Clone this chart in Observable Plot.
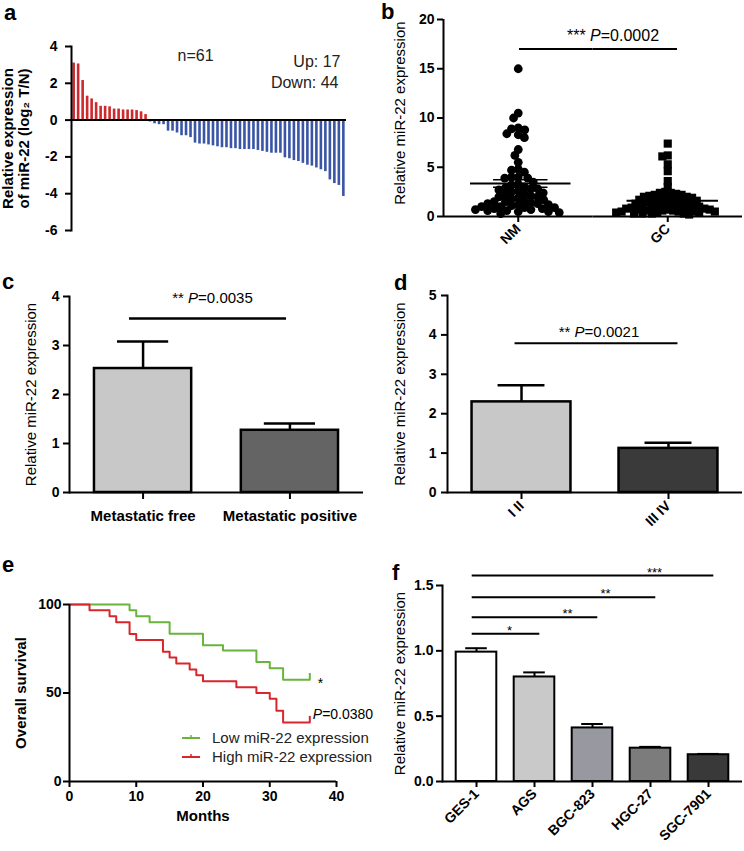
<!DOCTYPE html>
<html><head><meta charset="utf-8">
<script src="https://cdn.jsdelivr.net/npm/d3@7"></script>
<script src="https://cdn.jsdelivr.net/npm/@observablehq/plot@0.6"></script>
<style>
body{margin:0;background:#fff;}
#fig{position:relative;width:744px;height:851px;overflow:hidden;background:#fff;}
.panel{position:absolute;}
#overlay{position:absolute;left:0;top:0;pointer-events:none;}
</style></head><body><div id="fig"></div>
<script>
// ---------- DATA ----------
// a: log2 T/N per patient (sorted)
const aUp = [3.1, 3.05, 2.15, 1.3, 1.15, 0.95, 0.75, 0.75, 0.72, 0.6, 0.6, 0.55, 0.55, 0.55, 0.52, 0.45, 0.3];
const aDown = [-0.1, -0.2, -0.25, -0.25, -0.6, -0.6, -0.7, -0.85, -0.85, -0.95, -1.25, -1.3, -1.3, -1.35, -1.4,
  -1.45, -1.5, -1.5, -1.55, -1.55, -1.6, -1.6, -1.6, -1.6, -1.65, -1.7, -1.75, -1.8, -1.8, -1.8, -2.05, -2.1,
  -2.2, -2.25, -2.35, -2.45, -2.5, -2.6, -2.7, -2.8, -3.25, -3.45, -3.55, -4.15];
const aTicks = [4, 2, 0, -2, -4, -6];
// b: scatter NM vs GC
const bGroups = ["NM", "GC"];
const bNM = [15, 10.5, 10, 9, 8.9, 8.8, 8.4, 8.3, 8, 6.8, 6.2, 5.5, 4.8, 4.7, 4.5, 4, 4, 3.9, 3.9,
  3.5, 3.3, 3.2, 3.0, 2.9, 2.8, 2.8, 2.7, 2.6, 2.5, 2.4, 2.3, 2.2, 2.1, 2.0, 2.0, 1.9, 1.8, 1.7, 1.6, 1.5, 1.5,
  1.4, 1.3, 1.3, 1.2, 1.2, 1.1, 1.0, 1.0, 0.9, 0.9, 0.8, 0.8, 0.7, 0.7, 0.6, 0.6, 0.5, 0.5, 0.4, 0.3];
const bGC = [7.4, 6.2, 6.1, 5.3, 4.6, 3.6, 3.0, 2.5, 2.4, 2.4, 2.3, 2.2, 2.2, 2.1, 2.0, 2.0, 1.9, 1.9, 1.8, 1.8,
  1.7, 1.7, 1.6, 1.6, 1.5, 1.5, 1.4, 1.4, 1.3, 1.3, 1.2, 1.2, 1.1, 1.1, 1.0, 1.0, 1.0, 0.9, 0.9, 0.9, 0.8, 0.8,
  0.8, 0.7, 0.7, 0.7, 0.6, 0.6, 0.6, 0.5, 0.5, 0.5, 0.5, 0.4, 0.4, 0.4, 0.3, 0.3, 0.3, 0.3, 0.2];
const bMeans = [3.35, 1.6];
const bSem = [0.38, 0.2];
const bTicks = [0, 5, 10, 15, 20];
const bSigY = 17;
// c: metastasis
const cCats = ["Metastatic free", "Metastatic positive"];
const cMeans = [2.53, 1.27];
const cSem = [0.55, 0.14];
const cColors = ["#c8c8c8", "#646464"];
const cTicks = [0, 1, 2, 3, 4];
const cSigY = 3.55;
// d: stage
const dCats = ["I II", "III IV"];
const dMeans = [2.30, 1.12];
const dSem = [0.42, 0.14];
const dColors = ["#c8c8c8", "#3a3a3a"];
const dTicks = [0, 1, 2, 3, 4, 5];
const dSigY = 3.79;
// e: survival
const eLowMonths = [0, 9, 10, 12, 15, 20, 23, 28, 30, 32, 36];
const eLowSurv = [100, 96.7, 93.3, 90, 83.5, 77, 74, 67.5, 64, 57.5, 57.5];
const eHighMonths = [0, 3, 6, 7, 9, 10, 14, 15, 16, 18, 19, 20, 25, 28, 30, 31, 32, 36];
const eHighSurv = [100, 96.7, 93.3, 90, 83.3, 80, 73.3, 70, 66.7, 63.3, 60, 56.7, 53.3, 50, 46.7, 40, 33.3, 33.3];
const eSeries = ["Low miR-22 expression", "High miR-22 expression"];
const eColors = ["#6ab43e", "#d9262a"];
const eXTicks = [0, 10, 20, 30, 40];
const eYTicks = [0, 50, 100];
// f: cell lines
const fCats = ["GES-1", "AGS", "BGC-823", "HGC-27", "SGC-7901"];
const fMeans = [0.99, 0.80, 0.41, 0.255, 0.205];
const fSem = [0.03, 0.035, 0.03, 0.01, 0.006];
const fColors = ["#ffffff", "#c9c9c9", "#9898a0", "#7c7c7c", "#393939"];
const fTicks = [0, 0.5, 1.0, 1.5];
const fSigTo = ["AGS", "BGC-823", "HGC-27", "SGC-7901"];
const fSigY = [1.13, 1.257, 1.41, 1.576];
const fSigLabel = ["*", "**", "**", "***"];

// ---------- STYLE ----------
const FONT = "'Liberation Sans', Arial, Helvetica, sans-serif";
const base = {fontFamily: FONT, fontSize: "14px", overflow: "visible", background: "none", color: "#000"};
const AX = {tickSize: 6, strokeWidth: 2, fontWeight: "bold", fontSize: 14, label: null, fill: "#000"};
const plain = d => String(d);
const fig = document.getElementById("fig");
function place(node, left, top) {
  const d = document.createElement("div");
  d.className = "panel"; d.style.left = left + "px"; d.style.top = top + "px";
  d.append(node); fig.append(d);
}
function ytitle(text, dx, opts = {}) {
  return Plot.text([text], {frameAnchor: "left", rotate: -90, dx, lineAnchor: "middle", textAnchor: "middle",
    fontSize: 15, fill: "#000", ...opts});
}

// ---------- PANEL A ----------
const aData = [...aUp.map(v => ({v, dir: "up"})), ...aDown.map(v => ({v, dir: "down"}))].map((d, i) => ({...d, i}));
place(Plot.plot({
  width: 372, height: 240, marginLeft: 71, marginRight: 26, marginTop: 46, marginBottom: 10, style: base,
  x: {type: "band", domain: aData.map(d => d.i), paddingInner: 0.42, paddingOuter: 0.3, round: false, axis: null},
  y: {domain: [-6, 4], axis: null},
  marks: [
    Plot.barY(aData, {x: "i", y: "v", fill: d => d.dir === "up" ? "#cc2a2e" : "#3a55a5"}),
    Plot.ruleY([0], {stroke: "#000", strokeWidth: 2}),
    Plot.frame({anchor: "left", strokeWidth: 2}),
    Plot.axisY({...AX, ticks: aTicks, tickFormat: plain, tickPadding: 8}),
    ytitle("Relative expression", -63, {fontWeight: "bold"}),
    ytitle("of miR-22 (log\u2082 T/N)", -47, {fontWeight: "bold"}),
    Plot.text(["n=61"], {frameAnchor: "top-left", dx: 124, dy: 9, lineAnchor: "middle", textAnchor: "middle", fontSize: 16, fill: "#222"}),
    Plot.text(["Up: 17"], {frameAnchor: "top-right", dx: -6, dy: 15, lineAnchor: "middle", textAnchor: "end", fontSize: 16, fill: "#222"}),
    Plot.text(["Down: 44"], {frameAnchor: "top-right", dx: -8, dy: 36, lineAnchor: "middle", textAnchor: "end", fontSize: 16, fill: "#222"})
  ]
}), 0, 0);

// ---------- PANEL B ----------
const bData = [...bNM.map(v => ({g: "NM", v})), ...bGC.map(v => ({g: "GC", v}))];
const bStats = bGroups.map((g, i) => ({g, mean: bMeans[i], sem: bSem[i]}));
place(Plot.plot({
  width: 372, height: 262, marginLeft: 71, marginRight: 2, marginTop: 19, marginBottom: 46, style: base,
  fx: {domain: bGroups, padding: 0, label: null, axis: null, round: false},
  x: {domain: [0, 1], axis: null},
  y: {domain: [0, 20], axis: null},
  marks: [
    Plot.ruleY([0], {strokeWidth: 2}),
    Plot.ruleX([{g: "NM"}], {x: () => 0, fx: "g", y1: () => 0, y2: () => 20, strokeWidth: 2}),
    Plot.axisY({...AX, ticks: bTicks, tickFormat: plain, tickPadding: 3}),
    Plot.axisFx({...AX, anchor: "bottom", tickRotate: -45, tickPadding: 4}),
    Plot.dot(bData.filter(d => d.g === "NM"), Plot.dodgeX({anchor: "middle", padding: -2, fx: "g", y: "v", r: 4.4, fill: "#000", symbol: "circle"})),
    Plot.dot(bData.filter(d => d.g === "GC"), Plot.dodgeX({anchor: "middle", padding: -3.7, fx: "g", y: "v", r: 4.6, fill: "#000", symbol: "square"})),
    Plot.tickY(bStats.filter(d => d.g === "NM"), {fx: "g", y: "mean", strokeWidth: 2, insetLeft: 27, insetRight: 22}),
    Plot.tickY(bStats.filter(d => d.g === "GC"), {fx: "g", y: "mean", strokeWidth: 2, insetLeft: 34, insetRight: 24}),
    Plot.tickY(bStats, {fx: "g", y: d => d.mean + d.sem, strokeWidth: 1.5, insetLeft: 50, insetRight: 45}),
    Plot.tickY(bStats, {fx: "g", y: d => d.mean - d.sem, strokeWidth: 1.5, insetLeft: 50, insetRight: 45}),
    Plot.ruleY([{g: "NM", y: bSigY}], {fx: "g", y: "y", strokeWidth: 2, insetLeft: 76}),
    Plot.ruleY([{g: "GC", y: bSigY}], {fx: "g", y: "y", strokeWidth: 2, insetRight: 65}),
    Plot.text([{g: "NM", t: "*** P=0.0002"}], {fx: "g", text: "t", frameAnchor: "top-right", dx: 20, dy: 16, lineAnchor: "middle", textAnchor: "middle", fontSize: 16, fill: "#000"}),
    Plot.text([{g: "NM", t: "Relative miR-22 expression"}], {fx: "g", text: "t", y: () => 10.5, frameAnchor: "left", rotate: -90, dx: -43, lineAnchor: "middle", textAnchor: "middle", fontSize: 15, fill: "#000"})
  ]
}), 372, 0);

// ---------- PANEL C ----------
const cData = cCats.map((cat, i) => ({cat, mean: cMeans[i], sem: cSem[i], color: cColors[i]}));
place(Plot.plot({
  width: 372, height: 262, marginLeft: 69, marginRight: 9, marginTop: 26, marginBottom: 40, style: base,
  x: {domain: cCats, paddingInner: 0.338, paddingOuter: 0.17, round: false, axis: null},
  y: {domain: [0, 4], axis: null},
  marks: [
    Plot.ruleX(cData, {x: "cat", y1: "mean", y2: d => d.mean + d.sem, strokeWidth: 2.5}),
    Plot.tickY(cData, {x: "cat", y: d => d.mean + d.sem, strokeWidth: 2.5, insetLeft: 23, insetRight: 23}),
    Plot.barY(cData, {x: "cat", y: "mean", fill: "color", stroke: "#000", strokeWidth: 2.5}),
    Plot.ruleY([0], {strokeWidth: 2}),
    Plot.frame({anchor: "left", strokeWidth: 2}),
    Plot.axisY({...AX, ticks: cTicks, tickFormat: plain, tickPadding: 4}),
    Plot.axisX({...AX, tickSize: 7, tickPadding: 11, fontSize: 15}),
    Plot.ruleY([cSigY], {x1: () => cCats[0], x2: () => cCats[1], strokeWidth: 2.5, insetLeft: 35, insetRight: 52}),
    Plot.text(["** P=0.0035"], {frameAnchor: "top", dx: -4, dy: 2, lineAnchor: "middle", fontSize: 15, fill: "#000"}),
    ytitle("Relative miR-22 expression", -38)
  ]
}), 0, 270);

// ---------- PANEL D ----------
const dData = dCats.map((cat, i) => ({cat, mean: dMeans[i], sem: dSem[i], color: dColors[i]}));
place(Plot.plot({
  width: 372, height: 265, marginLeft: 75, marginRight: 2, marginTop: 25, marginBottom: 43, style: base,
  x: {domain: dCats, paddingInner: 0.327, paddingOuter: 0.167, round: false, axis: null},
  y: {domain: [0, 5], axis: null},
  marks: [
    Plot.ruleX(dData, {x: "cat", y1: "mean", y2: d => d.mean + d.sem, strokeWidth: 2.5}),
    Plot.tickY(dData, {x: "cat", y: d => d.mean + d.sem, strokeWidth: 2.5, insetLeft: 26, insetRight: 26}),
    Plot.barY(dData, {x: "cat", y: "mean", fill: "color", stroke: "#000", strokeWidth: 2.5}),
    Plot.ruleY([0], {strokeWidth: 2}),
    Plot.frame({anchor: "left", strokeWidth: 2}),
    Plot.axisY({...AX, ticks: dTicks, tickFormat: plain, tickPadding: 5}),
    Plot.axisX({...AX, tickSize: 7, tickRotate: -45, tickPadding: 4}),
    Plot.ruleY([dSigY], {x1: () => dCats[0], x2: () => dCats[1], strokeWidth: 2, insetLeft: 43, insetRight: 40}),
    Plot.text(["** P=0.0021"], {frameAnchor: "top", dx: 4, dy: 37, lineAnchor: "middle", fontSize: 15, fill: "#000"}),
    ytitle("Relative miR-22 expression", -47)
  ]
}), 372, 270);

// ---------- PANEL E ----------
const eData = [
  ...eLowMonths.map((m, i) => ({m, s: eLowSurv[i], grp: eSeries[0]})),
  ...eHighMonths.map((m, i) => ({m, s: eHighSurv[i], grp: eSeries[1]}))
];
const eEnds = eSeries.map(g => eData.filter(d => d.grp === g).at(-1));
place(Plot.plot({
  width: 372, height: 240, marginLeft: 69, marginRight: 36, marginTop: 14, marginBottom: 49, style: base,
  x: {domain: [0, 40], axis: null},
  y: {domain: [0, 100], axis: null},
  color: {domain: eSeries, range: eColors},
  marks: [
    Plot.line(eData, {x: "m", y: "s", z: "grp", stroke: "grp", curve: "step-after", strokeWidth: 2}),
    Plot.ruleX(eEnds, {x: "m", y1: "s", y2: d => d.s + 3.5, stroke: "grp", strokeWidth: 2}),
    Plot.ruleX([0], {strokeWidth: 2}),
    Plot.ruleY([0], {strokeWidth: 2}),
    Plot.axisY({...AX, ticks: eYTicks, tickFormat: plain, tickPadding: 2}),
    Plot.axisX({...AX, ticks: eXTicks, tickFormat: plain, tickPadding: 4}),
    Plot.text([eEnds[0]], {x: "m", y: "s", text: () => "*", dx: 8, dy: 4, lineAnchor: "middle", textAnchor: "start", fontSize: 14, fill: "#000"}),
    Plot.text([eEnds[1]], {x: "m", y: "s", text: () => "P=0.0380", dx: 3, dy: -8, lineAnchor: "middle", textAnchor: "start", fontSize: 14, fill: "#000"}),
    Plot.text(["Months"], {frameAnchor: "bottom", dy: 35, lineAnchor: "middle", fontSize: 15, fontWeight: "bold", fill: "#000"}),
    ytitle("Overall survival", -48, {fontWeight: "bold"})
  ]
}), 0, 590);

// ---------- PANEL F ----------
const fData = fCats.map((cat, i) => ({cat, mean: fMeans[i], sem: fSem[i], color: fColors[i]}));
const fSig = fSigTo.map((to, i) => ({from: fCats[0], to, y: fSigY[i], label: fSigLabel[i]}));
const fStarDx = [-25, -25, -45, -54];
place(Plot.plot({
  width: 372, height: 300, marginLeft: 70, marginRight: 2, marginTop: 35, marginBottom: 69, style: base,
  x: {domain: fCats, paddingInner: 0.3, paddingOuter: 0.15, inset: 5, round: false, axis: null},
  y: {domain: [0, 1.5], axis: null},
  marks: [
    Plot.ruleX(fData, {x: "cat", y1: "mean", y2: d => d.mean + d.sem, strokeWidth: 2}),
    Plot.tickY(fData, {x: "cat", y: d => d.mean + d.sem, strokeWidth: 2, insetLeft: 9.5, insetRight: 9.5}),
    Plot.barY(fData, {x: "cat", y: "mean", fill: "color", stroke: "#000", strokeWidth: 2}),
    Plot.ruleY([0], {strokeWidth: 2}),
    Plot.frame({anchor: "left", strokeWidth: 2}),
    Plot.axisY({...AX, ticks: fTicks, tickFormat: d3.format(".1f"), tickPadding: 3}),
    Plot.axisX({...AX, tickRotate: -45, tickPadding: 4}),
    Plot.ruleY(fSig, {x1: "from", x2: "to", y: "y", strokeWidth: 2, insetLeft: 16, insetRight: 15}),
    ...fSig.map((s, i) => Plot.text([s], {x: "to", y: "y", text: "label", dx: fStarDx[i], dy: 1, lineAnchor: "bottom", fontSize: 13, fill: "#000"})),
    ytitle("Relative miR-22 expression", -42)
  ]
}), 372, 550);

// ---------- OVERLAY: panel letters + legend of e ----------
const ov = d3.select(fig).append("svg").attr("id", "overlay").attr("width", 744).attr("height", 851)
  .style("font-family", FONT);
const letters = [["a", 4, 20], ["b", 381, 19], ["c", 2, 289], ["d", 394, 290], ["e", 2, 572], ["f", 392, 580]];
ov.selectAll("text.letter").data(letters).join("text").attr("class", "letter")
  .attr("x", d => d[1]).attr("y", d => d[2]).text(d => d[0])
  .attr("font-size", 22).attr("font-weight", "bold").attr("fill", "#000");
const leg = ov.selectAll("g.leg").data(eSeries).join("g").attr("class", "leg")
  .attr("transform", (d, i) => `translate(182,${738 + i * 19})`);
leg.append("line").attr("x1", 0).attr("x2", 18).attr("stroke", (d, i) => eColors[i]).attr("stroke-width", 2);
leg.append("line").attr("x1", 9).attr("x2", 9).attr("y1", 0).attr("y2", -3).attr("stroke", (d, i) => eColors[i]).attr("stroke-width", 1.5);
leg.append("text").attr("x", 30).attr("dy", "0.35em").attr("font-size", 15).attr("fill", "#222").text(d => d);

// italic P in P-values
const NS = "http://www.w3.org/2000/svg";
document.querySelectorAll("svg text").forEach(t => {
  const s = t.textContent, k = s.indexOf("P=");
  if (k >= 0 && t.children.length === 0) {
    t.textContent = "";
    if (k > 0) t.append(document.createTextNode(s.slice(0, k)));
    const ts = document.createElementNS(NS, "tspan");
    ts.setAttribute("font-style", "italic"); ts.textContent = "P"; t.append(ts);
    t.append(document.createTextNode(s.slice(k + 1)));
  }
});
</script></body></html>
